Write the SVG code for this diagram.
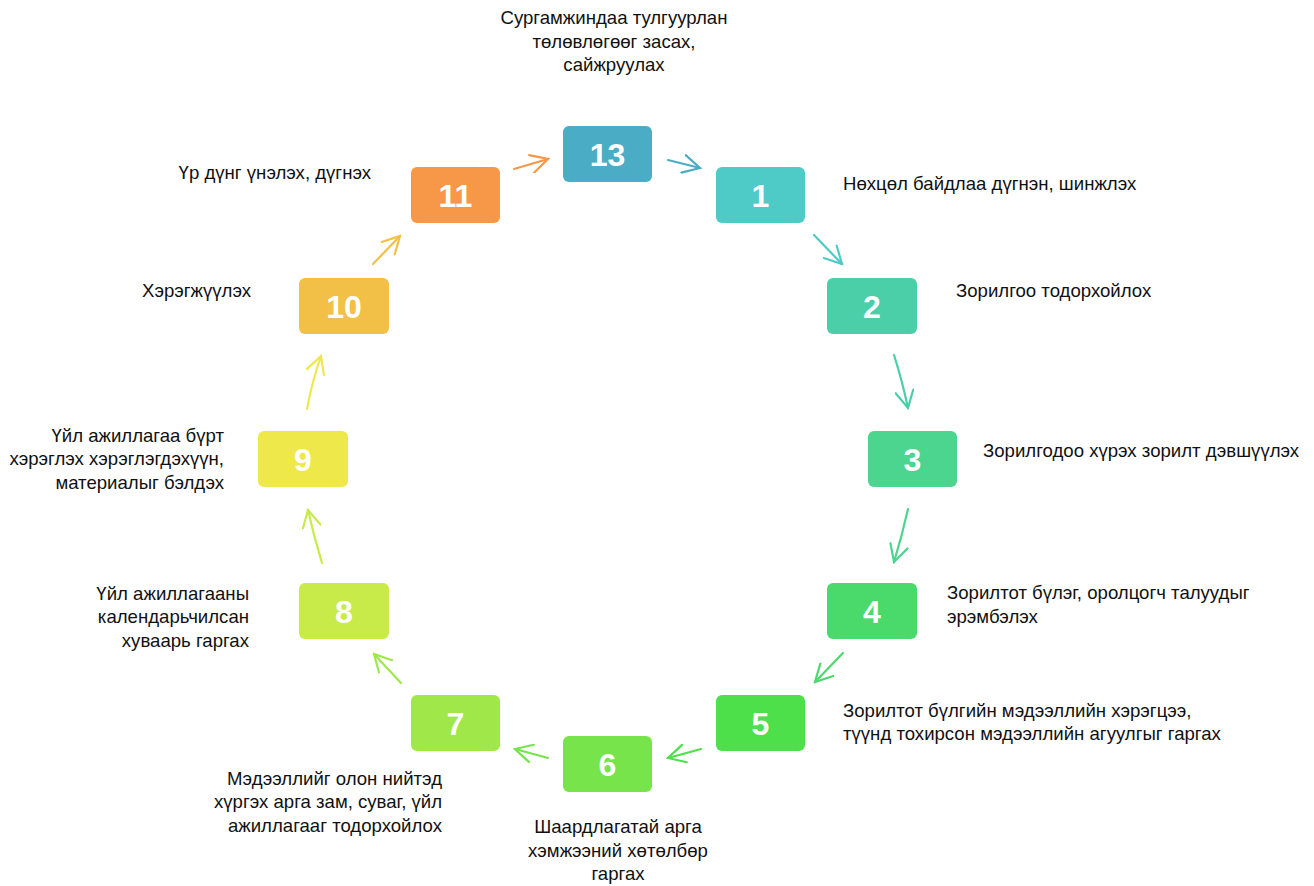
<svg xmlns="http://www.w3.org/2000/svg" width="1314" height="886" viewBox="0 0 1314 886">
<style>
.lbl{font-family:"Liberation Sans",Arial,sans-serif;font-size:18.6px;fill:#111}
.num{font-family:"Liberation Sans",Arial,sans-serif;font-size:32px;font-weight:bold;fill:#fff;text-anchor:middle}
.e{fill:none;stroke-width:2.2;stroke-linecap:round}
.r{text-anchor:end}
.m{text-anchor:middle}
</style>
<defs>
<marker id="a13" viewBox="0 0 20 20" refX="18" refY="10" markerWidth="20" markerHeight="20" markerUnits="userSpaceOnUse" orient="auto"><path d="M1,1 L18,10 L1,19" fill="none" stroke="#4BACC6" stroke-width="2.2" stroke-linecap="round"/></marker>
<marker id="a1" viewBox="0 0 20 20" refX="18" refY="10" markerWidth="20" markerHeight="20" markerUnits="userSpaceOnUse" orient="auto"><path d="M1,1 L18,10 L1,19" fill="none" stroke="#4ECBC6" stroke-width="2.2" stroke-linecap="round"/></marker>
<marker id="a2" viewBox="0 0 20 20" refX="18" refY="10" markerWidth="20" markerHeight="20" markerUnits="userSpaceOnUse" orient="auto"><path d="M1,1 L18,10 L1,19" fill="none" stroke="#4BCFA8" stroke-width="2.2" stroke-linecap="round"/></marker>
<marker id="a3" viewBox="0 0 20 20" refX="18" refY="10" markerWidth="20" markerHeight="20" markerUnits="userSpaceOnUse" orient="auto"><path d="M1,1 L18,10 L1,19" fill="none" stroke="#4BD58E" stroke-width="2.2" stroke-linecap="round"/></marker>
<marker id="a4" viewBox="0 0 20 20" refX="18" refY="10" markerWidth="20" markerHeight="20" markerUnits="userSpaceOnUse" orient="auto"><path d="M1,1 L18,10 L1,19" fill="none" stroke="#4ADA6C" stroke-width="2.2" stroke-linecap="round"/></marker>
<marker id="a5" viewBox="0 0 20 20" refX="18" refY="10" markerWidth="20" markerHeight="20" markerUnits="userSpaceOnUse" orient="auto"><path d="M1,1 L18,10 L1,19" fill="none" stroke="#4EE04A" stroke-width="2.2" stroke-linecap="round"/></marker>
<marker id="a6" viewBox="0 0 20 20" refX="18" refY="10" markerWidth="20" markerHeight="20" markerUnits="userSpaceOnUse" orient="auto"><path d="M1,1 L18,10 L1,19" fill="none" stroke="#76E44A" stroke-width="2.2" stroke-linecap="round"/></marker>
<marker id="a7" viewBox="0 0 20 20" refX="18" refY="10" markerWidth="20" markerHeight="20" markerUnits="userSpaceOnUse" orient="auto"><path d="M1,1 L18,10 L1,19" fill="none" stroke="#A0E84A" stroke-width="2.2" stroke-linecap="round"/></marker>
<marker id="a8" viewBox="0 0 20 20" refX="18" refY="10" markerWidth="20" markerHeight="20" markerUnits="userSpaceOnUse" orient="auto"><path d="M1,1 L18,10 L1,19" fill="none" stroke="#C8EB4A" stroke-width="2.2" stroke-linecap="round"/></marker>
<marker id="a9" viewBox="0 0 20 20" refX="18" refY="10" markerWidth="20" markerHeight="20" markerUnits="userSpaceOnUse" orient="auto"><path d="M1,1 L18,10 L1,19" fill="none" stroke="#EFE84A" stroke-width="2.2" stroke-linecap="round"/></marker>
<marker id="a10" viewBox="0 0 20 20" refX="18" refY="10" markerWidth="20" markerHeight="20" markerUnits="userSpaceOnUse" orient="auto"><path d="M1,1 L18,10 L1,19" fill="none" stroke="#F2C047" stroke-width="2.2" stroke-linecap="round"/></marker>
<marker id="a11" viewBox="0 0 20 20" refX="18" refY="10" markerWidth="20" markerHeight="20" markerUnits="userSpaceOnUse" orient="auto"><path d="M1,1 L18,10 L1,19" fill="none" stroke="#F79848" stroke-width="2.2" stroke-linecap="round"/></marker>
</defs>
<rect width="1314" height="886" fill="#fff"/>
<g id="connectors">
<path class="e" stroke="#F79848" d="M514,169 L548,159" marker-end="url(#a11)"/>
<path class="e" stroke="#4BACC6" d="M668,160 L700,168" marker-end="url(#a13)"/>
<path class="e" stroke="#4ECBC6" d="M814,235 L842,264" marker-end="url(#a1)"/>
<path class="e" stroke="#4BCFA8" d="M894,355 Q902,380 908,408" marker-end="url(#a2)"/>
<path class="e" stroke="#4BD58E" d="M908,509 Q902,536 894,562" marker-end="url(#a3)"/>
<path class="e" stroke="#4ADA6C" d="M843,653 L815,682" marker-end="url(#a4)"/>
<path class="e" stroke="#4EE04A" d="M701,749 L668,758" marker-end="url(#a5)"/>
<path class="e" stroke="#76E44A" d="M548,758 L515,749" marker-end="url(#a6)"/>
<path class="e" stroke="#A0E84A" d="M401,683 L374,654" marker-end="url(#a7)"/>
<path class="e" stroke="#C8EB4A" d="M322,563 Q314,537 308,510" marker-end="url(#a8)"/>
<path class="e" stroke="#EFE84A" d="M307,409 Q312,382 321,356" marker-end="url(#a9)"/>
<path class="e" stroke="#F2C047" d="M373,264 L400,236" marker-end="url(#a10)"/>
</g>
<g id="n13"><rect x="563" y="126" width="89" height="56" rx="6" fill="#4BACC6"/><text class="num" x="607.5" y="165.5">13</text>
<text class="lbl m" x="614" y="24">Сургамжиндаа тулгуурлан</text><text class="lbl m" x="614" y="47.5">төлөвлөгөөг засах,</text><text class="lbl m" x="614" y="71">сайжруулах</text></g>
<g id="n1"><rect x="716" y="167" width="89" height="56" rx="6" fill="#4ECBC6"/><text class="num" x="760.5" y="206.5">1</text>
<text class="lbl" x="843" y="190">Нөхцөл байдлаа дүгнэн, шинжлэх</text></g>
<g id="n2"><rect x="827" y="278" width="90" height="56" rx="6" fill="#4BCFA8"/><text class="num" x="872" y="317.5">2</text>
<text class="lbl" x="956" y="297">Зорилгоо тодорхойлох</text></g>
<g id="n3"><rect x="868" y="431" width="89" height="56" rx="6" fill="#4BD58E"/><text class="num" x="912.5" y="470.5">3</text>
<text class="lbl" x="983" y="457">Зорилгодоо хүрэх зорилт дэвшүүлэх</text></g>
<g id="n4"><rect x="827" y="583" width="90" height="56" rx="6" fill="#4ADA6C"/><text class="num" x="872" y="622.5">4</text>
<text class="lbl" x="947" y="599">Зорилтот бүлэг, оролцогч талуудыг</text><text class="lbl" x="947" y="623">эрэмбэлэх</text></g>
<g id="n5"><rect x="716" y="695" width="89" height="56" rx="6" fill="#4EE04A"/><text class="num" x="760.5" y="734.5">5</text>
<text class="lbl" x="843" y="717">Зорилтот бүлгийн мэдээллийн хэрэгцээ,</text><text class="lbl" x="843" y="740">түүнд тохирсон мэдээллийн агуулгыг гаргах</text></g>
<g id="n6"><rect x="563" y="736" width="89" height="56" rx="6" fill="#76E44A"/><text class="num" x="607.5" y="775.5">6</text>
<text class="lbl m" x="618" y="833">Шаардлагатай арга</text><text class="lbl m" x="618" y="857">хэмжээний хөтөлбөр</text><text class="lbl m" x="618" y="880">гаргах</text></g>
<g id="n7"><rect x="411" y="695" width="89" height="56" rx="6" fill="#A0E84A"/><text class="num" x="455.5" y="734.5">7</text>
<text class="lbl r" x="442" y="785">Мэдээллийг олон нийтэд</text><text class="lbl r" x="442" y="808">хүргэх арга зам, суваг, үйл</text><text class="lbl r" x="442" y="832">ажиллагааг тодорхойлох</text></g>
<g id="n8"><rect x="299" y="583" width="90" height="56" rx="6" fill="#C8EB4A"/><text class="num" x="344" y="622.5">8</text>
<text class="lbl r" x="249" y="600">Үйл ажиллагааны</text><text class="lbl r" x="249" y="623">календарьчилсан</text><text class="lbl r" x="249" y="647">хуваарь гаргах</text></g>
<g id="n9"><rect x="258" y="431" width="90" height="56" rx="6" fill="#EFE84A"/><text class="num" x="303" y="470.5">9</text>
<text class="lbl r" x="224" y="442">Үйл ажиллагаа бүрт</text><text class="lbl r" x="224" y="465">хэрэглэх хэрэглэгдэхүүн,</text><text class="lbl r" x="224" y="489">материалыг бэлдэх</text></g>
<g id="n10"><rect x="299" y="278" width="90" height="56" rx="6" fill="#F2C047"/><text class="num" x="344" y="317.5">10</text>
<text class="lbl r" x="251" y="297">Хэрэгжүүлэх</text></g>
<g id="n11"><rect x="411" y="167" width="89" height="56" rx="6" fill="#F79848"/><text class="num" x="455.5" y="206.5">11</text>
<text class="lbl r" x="371" y="179">Үр дүнг үнэлэх, дүгнэх</text></g>
</svg>
